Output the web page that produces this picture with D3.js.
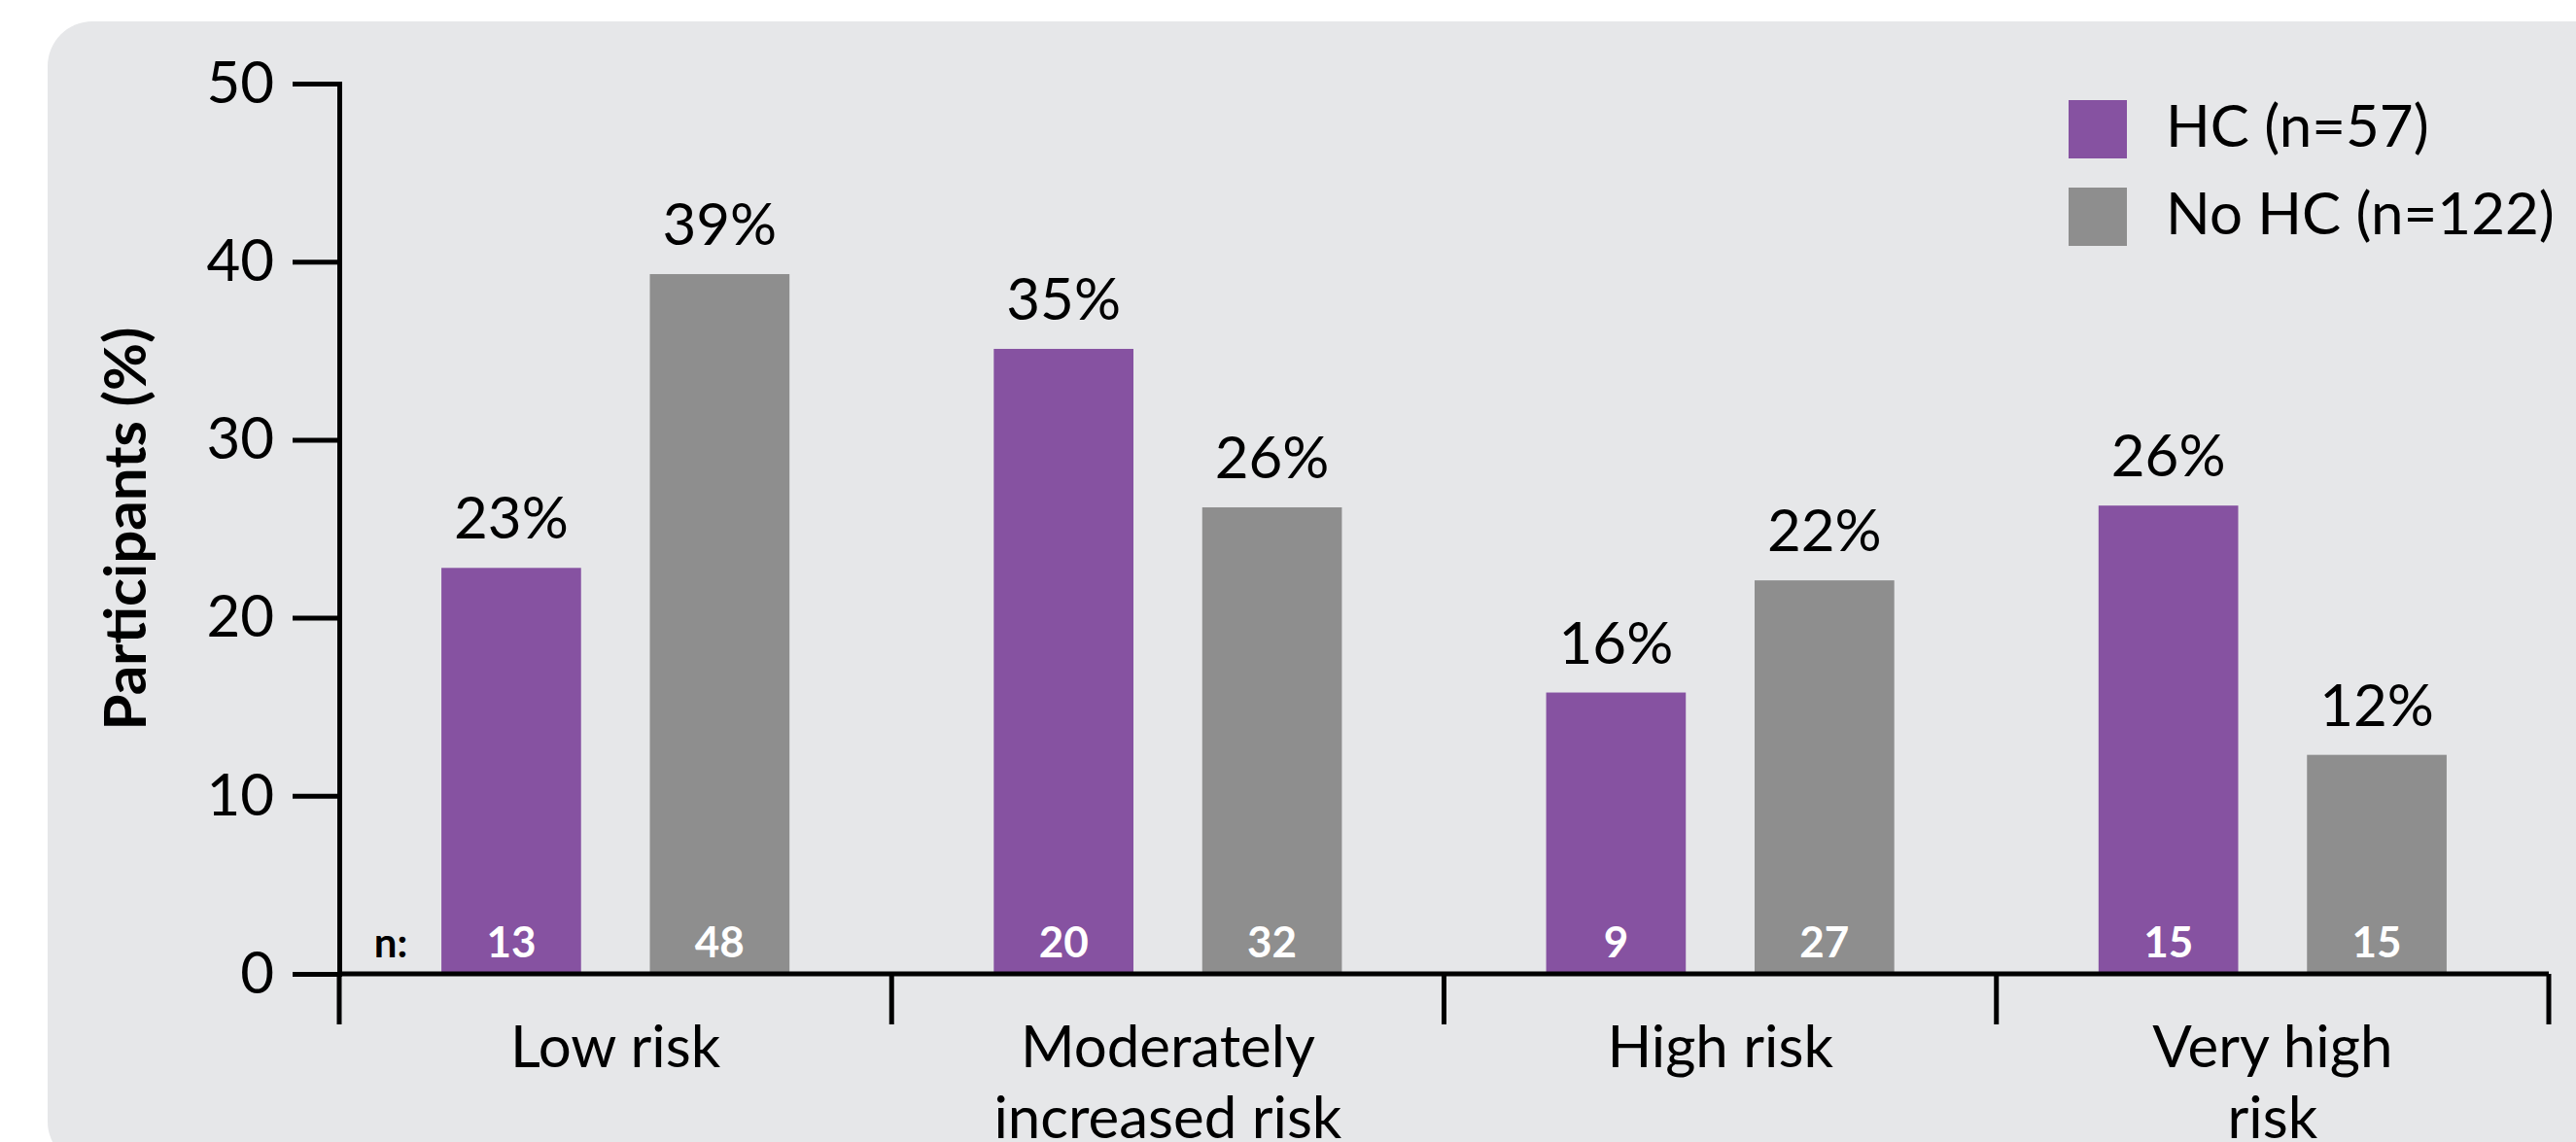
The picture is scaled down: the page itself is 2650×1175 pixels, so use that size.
<!DOCTYPE html>
<html>
<head>
<meta charset="utf-8">
<script src="https://cdn.jsdelivr.net/npm/d3@7"></script>
<style>
  html, body { margin: 0; padding: 0; background: #ffffff; }
  svg { display: block; }
  text { font-family: Lato, "Open Sans", sans-serif; fill: #000; }
</style>
</head>
<body>
<svg id="chart" width="2650" height="1175"></svg>
<script>
// ---- data ----
const categories = ["Low risk", "Moderately\nincreased risk", "High risk", "Very high\nrisk"];
const seriesNames = ["HC (n=57)", "No HC (n=122)"];
const seriesKeys = ["HC", "NoHC"];
const hcValues = [22.8, 35.1, 15.8, 26.3];
const noHcValues = [39.3, 26.2, 22.1, 12.3];
const hcLabels = ["23%", "35%", "16%", "26%"];
const noHcLabels = ["39%", "26%", "22%", "12%"];
const hcN = [13, 20, 9, 15];
const noHcN = [48, 32, 27, 15];
const yTicks = [0, 10, 20, 30, 40, 50];
const yTitle = "Participants (%)";
const nPrefix = "n:";

const colors = { HC: "#8652A1", NoHC: "#8E8E8E" };

// ---- layout ----
const svg = d3.select("#chart");
const W = 2650, H = 1175;
const plot = { left: 349, right: 2622, top: 86, bottom: 1002 };
const lineW = 5;

// panel background
svg.append("rect")
  .attr("x", 49).attr("y", 22)
  .attr("width", W + 60).attr("height", 1178)
  .attr("rx", 46).attr("ry", 46)
  .attr("fill", "#E6E7E9");

const rows = categories.map((c, i) => ({
  cat: c,
  HC: { v: hcValues[i], label: hcLabels[i], n: hcN[i] },
  NoHC: { v: noHcValues[i], label: noHcLabels[i], n: noHcN[i] }
}));

const x0 = d3.scaleBand().domain(categories).range([plot.left, plot.right]).paddingInner(0).paddingOuter(0);
const x1 = d3.scaleBand().domain(seriesKeys).range([0, x0.bandwidth()]).paddingInner(0.33).paddingOuter(0.49);
const y = d3.scaleLinear().domain([0, 50]).range([plot.bottom, plot.top]);

// bars
const groups = svg.append("g").selectAll("g.cat")
  .data(rows).join("g")
  .attr("class", "cat")
  .attr("transform", d => `translate(${x0(d.cat)},0)`);

groups.selectAll("rect")
  .data(d => seriesKeys.map(k => ({ key: k, ...d[k] })))
  .join("rect")
  .attr("x", d => x1(d.key))
  .attr("width", x1.bandwidth())
  .attr("y", d => y(d.v))
  .attr("height", d => y(0) - y(d.v))
  .attr("fill", d => colors[d.key]);

// value labels
groups.selectAll("text.val")
  .data(d => seriesKeys.map(k => ({ key: k, ...d[k] })))
  .join("text")
  .attr("class", "val")
  .attr("x", d => x1(d.key) + x1.bandwidth() / 2)
  .attr("y", d => y(d.v) - 30)
  .attr("text-anchor", "middle")
  .style("font-size", "60px")
  .text(d => d.label);

// n labels inside bars
groups.selectAll("text.n")
  .data(d => seriesKeys.map(k => ({ key: k, ...d[k] })))
  .join("text")
  .attr("class", "n")
  .attr("x", d => x1(d.key) + x1.bandwidth() / 2)
  .attr("y", y(0) - 17)
  .attr("text-anchor", "middle")
  .style("font-size", "44px")
  .style("font-weight", "700")
  .style("fill", "#ffffff")
  .text(d => d.n);

svg.append("text")
  .attr("x", x0(categories[0]) + 53)
  .attr("y", y(0) - 17)
  .attr("text-anchor", "middle")
  .style("font-size", "42px")
  .style("font-weight", "700")
  .text(nPrefix);

// y axis
const yAxis = d3.axisLeft(y).tickValues(yTicks).tickSize(48).tickPadding(19).tickSizeOuter(0);
const yg = svg.append("g").attr("transform", `translate(${plot.left},0)`).call(yAxis);
yg.select(".domain").attr("stroke", "#000").attr("stroke-width", lineW).attr("stroke-linecap", "square");
yg.selectAll(".tick line").attr("stroke", "#000").attr("stroke-width", lineW);
yg.selectAll(".tick text")
  .style("font-family", "Lato, sans-serif")
  .style("font-size", "60px")
  .attr("fill", "#000");

// x axis baseline
svg.append("line")
  .attr("x1", plot.left).attr("x2", plot.right)
  .attr("y1", y(0)).attr("y2", y(0))
  .attr("stroke", "#000").attr("stroke-width", lineW);

// category boundary ticks
const bounds = categories.map(c => x0(c)).concat([x0(categories[categories.length - 1]) + x0.bandwidth()]);
svg.append("g").selectAll("line")
  .data(bounds).join("line")
  .attr("x1", d => d).attr("x2", d => d)
  .attr("y1", y(0)).attr("y2", y(0) + 52)
  .attr("stroke", "#000").attr("stroke-width", lineW);

// category labels
const catText = svg.append("g").selectAll("text")
  .data(categories).join("text")
  .attr("text-anchor", "middle")
  .style("font-size", "60px")
  .attr("transform", d => `translate(${x0(d) + x0.bandwidth() / 2},${y(0) + 96})`);
catText.selectAll("tspan")
  .data(d => d.split("\n")).join("tspan")
  .attr("x", 0)
  .attr("dy", (d, i) => i === 0 ? 0 : 73)
  .text(d => d);

// y axis title
svg.append("text")
  .attr("transform", `translate(150,${(plot.top + plot.bottom) / 2}) rotate(-90)`)
  .attr("text-anchor", "middle")
  .style("font-size", "60px")
  .style("font-weight", "700")
  .text(yTitle);

// legend
const legend = svg.append("g").attr("transform", "translate(2128,103)");
const li = legend.selectAll("g").data(seriesKeys).join("g")
  .attr("transform", (d, i) => `translate(0,${i * 90})`);
li.append("rect").attr("width", 60).attr("height", 60).attr("fill", d => colors[d]);
li.append("text")
  .attr("x", 100).attr("y", 48)
  .style("font-size", "60px")
  .text((d, i) => seriesNames[i]);
</script>
</body>
</html>
